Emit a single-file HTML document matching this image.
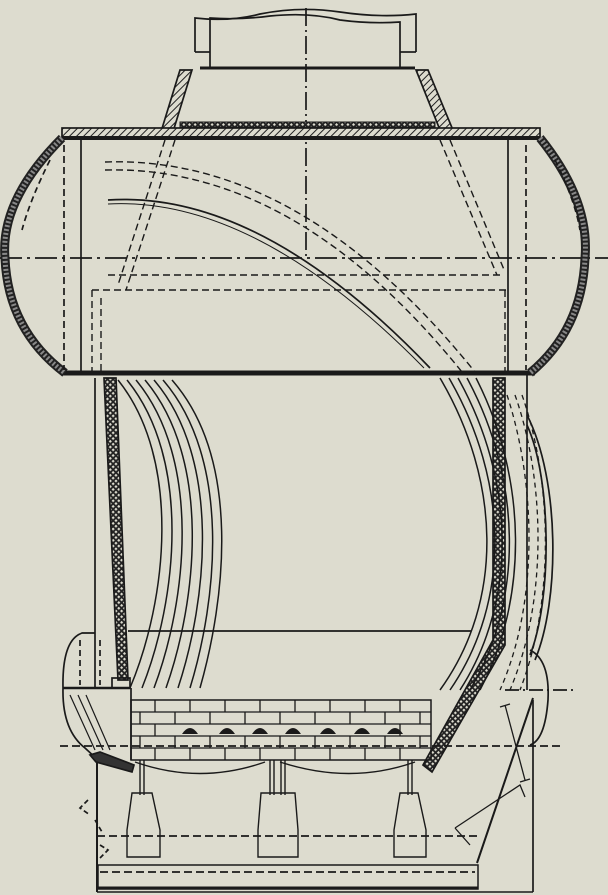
<!DOCTYPE html>
<html><head><meta charset="utf-8"><style>
html,body{margin:0;padding:0;background:#dddccf;}
svg{display:block}
</style></head><body>
<svg width="608" height="895" viewBox="0 0 608 895" xmlns="http://www.w3.org/2000/svg">
<defs>
<pattern id="h" width="5" height="5" patternUnits="userSpaceOnUse" patternTransform="rotate(45)">
<rect width="5" height="5" fill="#dddccf"/><line x1="0" y1="0" x2="0" y2="5" stroke="#222" stroke-width="2"/></pattern>
<pattern id="x" width="4" height="4" patternUnits="userSpaceOnUse" patternTransform="rotate(45)">
<rect width="4" height="4" fill="#222"/><rect x="1" y="1" width="2.2" height="2.2" fill="#dddccf"/></pattern>
</defs>
<rect width="608" height="895" fill="#dddccf"/>
<g fill="none" stroke="#1a1a1a" stroke-width="1.7">
<!-- chimney -->
<path d="M195,52 L195,18 Q230,22 260,14 Q300,6 340,12 Q380,18 416,14 L416,52" />
<path d="M210,68 L210,18 Q240,20 270,16 Q310,12 340,20 Q370,24 400,22 L400,68"/>
<line x1="195" y1="52" x2="210" y2="52"/><line x1="400" y1="52" x2="416" y2="52"/>
<line x1="200" y1="68" x2="415" y2="68" stroke-width="3"/>
<!-- center lines -->
<line x1="306" y1="8" x2="306" y2="258" stroke-dasharray="18,4,2,4"/>
<line x1="0" y1="258" x2="608" y2="258" stroke-dasharray="22,5,3,5"/>
<!-- cone -->
<polygon points="180,70 192,70 172,135 160,135" fill="url(#h)"/>
<polygon points="416,70 428,70 455,135 442,135" fill="url(#h)"/>
<rect x="180" y="122" width="255" height="5" fill="url(#x)" stroke-width="1"/>
<!-- drum -->
<rect x="62" y="128" width="478" height="9" fill="url(#h)"/>
<line x1="62" y1="138" x2="540" y2="138" stroke-width="4"/>
<line x1="62" y1="373" x2="535" y2="373" stroke-width="5"/>
<path d="M62,138 Q0,200 5,258 Q8,330 65,373" stroke-width="9" stroke="#222"/>
<path d="M62,138 Q0,200 5,258 Q8,330 65,373" stroke-width="5" stroke="#888" stroke-dasharray="2,2"/>
<path d="M540,138 Q590,200 585,258 Q582,330 530,373" stroke-width="9" stroke="#222"/>
<path d="M540,138 Q590,200 585,258 Q582,330 530,373" stroke-width="5" stroke="#888" stroke-dasharray="2,2"/>
<line x1="81" y1="138" x2="81" y2="373"/><line x1="508" y1="138" x2="508" y2="373"/>
<line x1="64" y1="145" x2="64" y2="370" stroke-dasharray="7,4"/>
<line x1="526" y1="145" x2="526" y2="370" stroke-dasharray="7,4"/>
<path d="M50,160 Q30,200 22,230" stroke-dasharray="6,4"/>
<path d="M555,160 Q575,200 580,230" stroke-dasharray="6,4"/>
<!-- internal dashed -->
<g stroke-dasharray="7,4" stroke-width="1.4">
<path d="M105,162 Q300,155 475,372"/><path d="M105,170 Q295,165 462,372"/>
<path d="M165,140 L118,285"/><path d="M175,140 L126,290"/>
<path d="M440,140 L497,275"/><path d="M450,140 L505,272"/>
<line x1="108" y1="275" x2="500" y2="275"/>
<line x1="92" y1="290" x2="506" y2="290"/>
<line x1="92" y1="290" x2="92" y2="373"/><line x1="101" y1="298" x2="101" y2="373"/>
<line x1="505" y1="290" x2="505" y2="373"/>
</g>
<path d="M108,200 Q260,190 430,368"/><path d="M108,204 Q255,196 424,368" stroke-width="1"/>
<!-- left firebox wall -->
<line x1="95" y1="378" x2="95" y2="688"/>
<polygon points="104,378 116,378 128,680 118,680" fill="url(#x)"/>
<!-- left tubes -->
<g stroke-width="1.5">
<path d="M118,380 C182,460 167,600 130,688"/>
<path d="M127,380 C192,460 177,600 142,688"/>
<path d="M136,380 C202,460 187,600 154,688"/>
<path d="M145,380 C212,460 197,600 166,688"/>
<path d="M154,380 C222,460 207,600 178,688"/>
<path d="M163,380 C232,460 217,600 190,688"/>
<path d="M172,380 C242,460 225,600 200,688"/>
</g>
<!-- right wall -->
<polygon points="493,378 505,378 505,645 432,772 423,765 493,640" fill="url(#x)"/>
<line x1="527" y1="375" x2="527" y2="690"/>
<g stroke-width="1.5">
<path d="M440,378 C500,480 505,600 440,690"/>
<path d="M449,378 C508,480 512,600 450,690"/>
<path d="M458,378 C515,480 518,600 460,690"/>
<path d="M467,378 C522,480 524,600 470,690"/>
<path d="M476,378 C528,480 528,600 480,690"/>
</g>
<g stroke-dasharray="5,4" stroke-width="1.3">
<path d="M507,395 C535,480 540,600 500,690"/>
<path d="M515,395 C545,480 548,600 510,690"/>
<path d="M522,395 C552,480 555,600 520,690"/>
</g>
<path d="M527,415 C560,480 560,600 535,660"/><path d="M527,425 C552,480 552,600 530,655"/>
<!-- right cap below -->
<path d="M530,650 Q550,660 548,700 Q545,740 530,745"/>
<line x1="505" y1="690" x2="575" y2="690" stroke-dasharray="14,4,2,4"/>
<!-- firebox line -->
<line x1="128" y1="631" x2="471" y2="631"/>
<!-- left lower cap -->
<path d="M95,633 L82,633 Q62,640 63,688 Q62,730 85,748 L98,760"/>
<line x1="63" y1="688" x2="130" y2="688" stroke-width="2.5"/>
<line x1="80" y1="640" x2="80" y2="685" stroke-dasharray="6,4"/>
<line x1="100" y1="640" x2="100" y2="685" stroke-dasharray="6,4"/>
<path d="M70,695 L95,750 M78,695 L103,750 M86,695 L110,750" stroke-width="1.2"/>
<polygon points="90,755 100,752 134,765 132,772 96,762" fill="#333"/>
<rect x="112" y="678" width="18" height="10"/>
<line x1="131" y1="688" x2="131" y2="760"/>
<!-- bricks -->
<rect x="131" y="700" width="300" height="60" stroke-width="1.5"/>
<g stroke-width="1.3">
<line x1="131" y1="712" x2="431" y2="712"/><line x1="131" y1="724" x2="431" y2="724"/>
<line x1="131" y1="736" x2="431" y2="736"/><line x1="131" y1="748" x2="431" y2="748"/>
<path d="M155,700v12M190,700v12M225,700v12M260,700v12M295,700v12M330,700v12M365,700v12M400,700v12"/>
<path d="M140,712v12M175,712v12M210,712v12M245,712v12M280,712v12M315,712v12M350,712v12M385,712v12M420,712v12"/>
<path d="M155,724v12M400,724v12"/>
<path d="M140,736v12M175,736v12M210,736v12M245,736v12M280,736v12M315,736v12M350,736v12M385,736v12M420,736v12"/>
<path d="M155,748v12M190,748v12M225,748v12M260,748v12M295,748v12M330,748v12M365,748v12M400,748v12"/>
</g>
<g fill="#1a1a1a" stroke="none">
<path d="M182,734 Q190,722 198,734Z"/><path d="M219,734 Q227,722 235,734Z"/><path d="M252,734 Q260,722 268,734Z"/>
<path d="M285,734 Q293,722 301,734Z"/><path d="M320,734 Q328,722 336,734Z"/><path d="M354,734 Q362,722 370,734Z"/><path d="M387,734 Q395,722 403,734Z"/>
</g>
<line x1="60" y1="746" x2="560" y2="746" stroke-dasharray="8,4"/>
<path d="M135,762 Q200,785 265,762 M280,762 Q350,785 415,762" stroke-width="1.4"/>
<!-- supports & weights -->
<g stroke-width="1.4">
<line x1="140" y1="760" x2="140" y2="795"/><line x1="144" y1="760" x2="144" y2="795"/>
<line x1="270" y1="760" x2="270" y2="795"/><line x1="274" y1="760" x2="274" y2="795"/>
<line x1="281" y1="760" x2="281" y2="795"/><line x1="285" y1="760" x2="285" y2="795"/>
<line x1="408" y1="760" x2="408" y2="795"/><line x1="412" y1="760" x2="412" y2="795"/>
<path d="M132,793 L152,793 L160,830 L160,857 L127,857 L127,830Z"/>
<path d="M261,793 L295,793 L298,830 L298,857 L258,857 L258,830Z"/>
<path d="M400,793 L418,793 L426,830 L426,857 L394,857 L394,830Z"/>
</g>
<!-- bottom box -->
<line x1="97" y1="763" x2="97" y2="892" stroke-width="2"/>
<line x1="533" y1="700" x2="533" y2="892"/>
<line x1="97" y1="892" x2="533" y2="892" stroke-width="1.5"/>
<rect x="98" y="865" width="380" height="24" stroke-width="1.5"/>
<line x1="98" y1="888" x2="478" y2="888" stroke-width="3"/>
<line x1="100" y1="872" x2="475" y2="872" stroke-dasharray="8,4"/>
<line x1="97" y1="836" x2="480" y2="836" stroke-dasharray="8,4"/>
<line x1="533" y1="698" x2="477" y2="863" stroke-width="2"/>
<path d="M505,705 L525,780 M500,707 L510,704 M520,782 L530,779" stroke-width="1.3"/>
<path d="M455,828 L520,785 L525,797 M455,828 L470,845" stroke-width="1.3"/>
<path d="M88,800 L80,808 L90,815 M95,820 L102,832 M100,845 L108,850 L100,858" stroke-dasharray="5,3"/>
</g>
</svg>
</body></html>
